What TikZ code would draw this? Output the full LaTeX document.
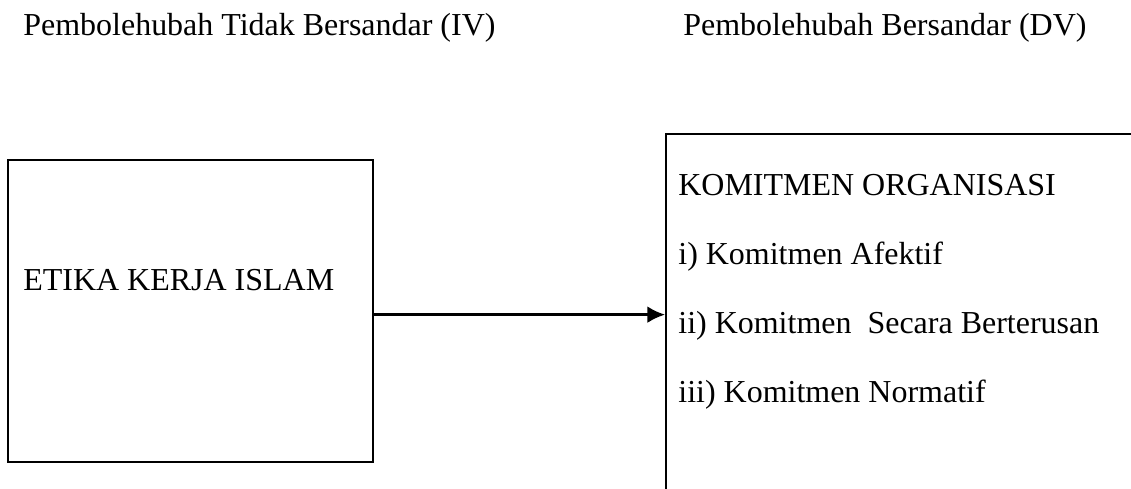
\documentclass[tikz,border=0pt]{standalone}
\usepackage{fontspec}
\setmainfont{Liberation Serif}
\usetikzlibrary{
  arrows.meta,
  positioning
}
\tikzset{>={Latex[length=10pt,width=9.5pt]}}
\tikzset{font=\fontsize{18.2}{21}\selectfont}
\tikzset{varbox/.style={draw, rectangle, line width=1.3pt, inner sep=0pt,
    anchor=north west},
  varlabel/.style={anchor=base west, inner sep=0pt}}

\begin{document}
\begin{tikzpicture}[x=0.02cm, y=-0.02cm]
          \useasboundingbox (0,0) rectangle (1131,488);
          \clip (0,0) rectangle (1131,488);
          % headings
          \node[varlabel] (iv) at (23,35) {Pembolehubah Tidak Bersandar (IV)};
          \node[varlabel] (dv) at (683,35) {Pembolehubah Bersandar (DV)};
          % independent variable
          \node[varbox, minimum width=7.3cm, minimum height=6.04cm] (etika) at (7,159) {};
          \node[varlabel] (etikatext) at (23,290) {ETIKA KERJA ISLAM};
          % dependent variable, runs off the page
          \node[varbox, minimum width=12cm, minimum height=8cm] (komitmen) at (665,133) {};
          \node[varlabel] (k0) at (678,195) {KOMITMEN ORGANISASI};
          \node[varlabel] (k1) at (678,264) {i) Komitmen Afektif};
          \node[varlabel] (k2) at (678,333) {ii) Komitmen\ \ Secara Berterusan};
          \node[varlabel] (k3) at (678,402) {iii) Komitmen Normatif};
          \draw[->, line width=1.3pt] ([yshift=-2pt]etika.east) -- ([yshift=-2pt]etika.east -| komitmen.west);
        \end{tikzpicture}
\end{document}
